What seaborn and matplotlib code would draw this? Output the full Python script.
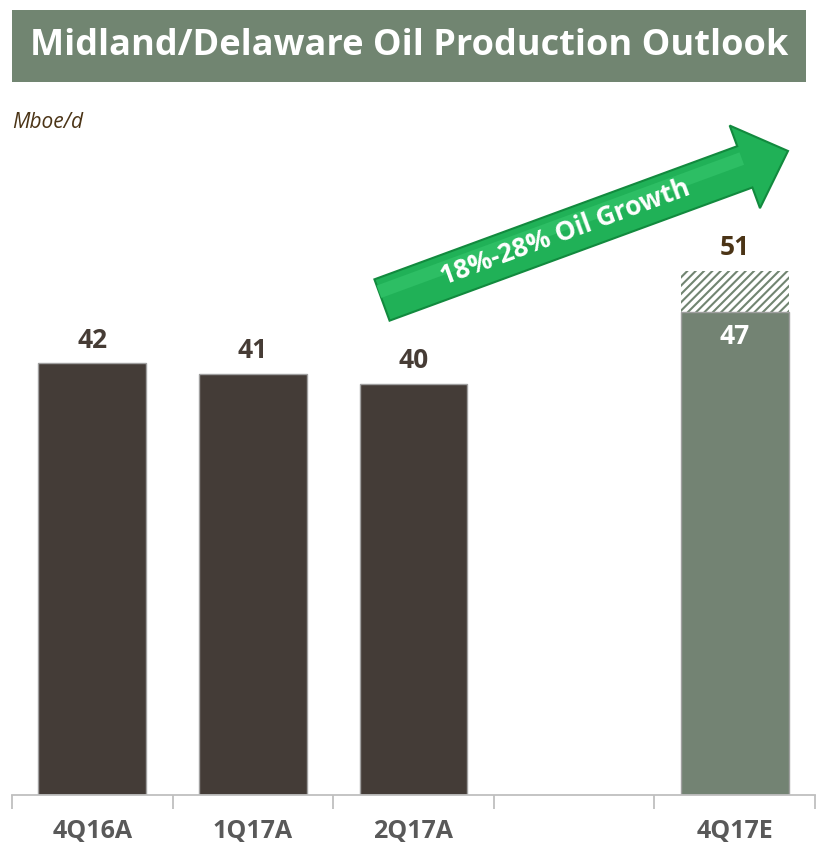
import numpy as np
import pandas as pd
import matplotlib
matplotlib.use("Agg")
import matplotlib.pyplot as plt
import seaborn as sns
from matplotlib.patches import Polygon, Rectangle

# ---- data ----
categories = ["4Q16A", "1Q17A", "2Q17A", "4Q17E"]
slot_order = ["4Q16A", "1Q17A", "2Q17A", " ", "4Q17E"]
base_values = [42, 41, 40, 47]
total_values = [42, 41, 40, 51]
title = "Midland/Delaware Oil Production Outlook"
unit_label = "Mboe/d"
arrow_text = "18%-28% Oil Growth"

DARK = "#463C35"
GREEN = "#718571"
BROWN = "#4B3416"
FONT = ["Open Sans", "DejaVu Sans"]

sns.set_theme(style="white")
plt.rcParams["font.family"] = FONT
plt.rcParams["hatch.linewidth"] = 1.5

W, H = 819, 846
fig = plt.figure(figsize=(W / 100, H / 100), dpi=100)

def px(x, y):
    return (x / 100.0, (H - y) / 100.0)

ax = fig.add_axes([12 / W, 1 - 795 / H, 803 / W, 655 / H])
ymax = 655 / 10.28

df = pd.DataFrame({"cat": categories, "base": base_values, "total": total_values})
palette = {"4Q16A": DARK, "1Q17A": DARK, "2Q17A": DARK, "4Q17E": GREEN}

sns.barplot(data=df, x="cat", y="total", order=slot_order, color="white",
            width=0.67, edgecolor=GREEN, linewidth=0, hatch="////", ax=ax)
sns.barplot(data=df, x="cat", y="base", order=slot_order, hue="cat",
            palette=palette, legend=False, width=0.67,
            edgecolor="#A0A0A0", linewidth=1.0, ax=ax)

ax.set_xlim(-0.5, 4.5)
ax.set_ylim(0, ymax)
ax.set_xlabel("")
ax.set_ylabel("")
ax.set_yticks([])
for s in ["top", "right", "left"]:
    ax.spines[s].set_visible(False)
ax.spines["bottom"].set_color("#BFBFBF")
ax.spines["bottom"].set_linewidth(1.3)

ax.set_xticks(range(5))
ax.set_xticklabels(slot_order, fontsize=18, fontweight="bold", color="#595959",
                   family=FONT)
ax.tick_params(axis="x", which="major", length=0, pad=17)
ax.set_xticks(np.arange(-0.5, 5.0, 1.0), minor=True)
ax.tick_params(axis="x", which="minor", length=10, width=1.3, color="#BFBFBF",
               bottom=True)

pos = {c: slot_order.index(c) for c in categories}
for c, b, t in zip(categories, base_values, total_values):
    x = pos[c]
    if t > b:
        ax.annotate(f"{t}", (x, t), xytext=(0, 7), textcoords="offset points",
                    ha="center", va="bottom", fontsize=19, fontweight="bold",
                    color=BROWN)
        ax.annotate(f"{b}", (x, b), xytext=(0, -8), textcoords="offset points",
                    ha="center", va="top", fontsize=19, fontweight="bold",
                    color="white")
    else:
        ax.annotate(f"{b}", (x, b), xytext=(0, 7), textcoords="offset points",
                    ha="center", va="bottom", fontsize=19, fontweight="bold",
                    color=DARK)

fig.patches.append(Rectangle(px(12, 82), 794 / 100, 72 / 100, transform=fig.dpi_scale_trans,
                             facecolor=GREEN, edgecolor="none", zorder=0))
fig.text(409 / W, 1 - 46 / H, title, ha="center", va="center", fontsize=26,
         fontweight="bold", color="white")

fig.text(12 / W, 1 - 122 / H, unit_label, ha="left", va="center", fontsize=15,
         style="italic", color=BROWN)

T = np.array([382.0, 300.0])
P = np.array([788.0, 151.0])
d = P - T
L = np.hypot(*d)
u = d / L
n = np.array([u[1], -u[0]])
hw, HW, HL = 22.0, 44.0, 46.0
B = P - u * HL
pts = [T + n * hw, B + n * hw, B + n * HW, P, B - n * HW, B - n * hw, T - n * hw]
poly = Polygon([px(*p) for p in pts], closed=True, transform=fig.dpi_scale_trans,
               facecolor="#20B157", edgecolor="#128A3E", linewidth=1.5, zorder=5)
fig.patches.append(poly)
hl = [T + n * hw * 0.1, B + n * hw * 0.1, B + n * hw * 0.7, T + n * hw * 0.7]
fig.patches.append(Polygon([px(*p) for p in hl], closed=True, transform=fig.dpi_scale_trans,
                           facecolor="#2DBE64", edgecolor="none", zorder=5))
ang = np.degrees(np.arctan2(-d[1], d[0]))
C = T + u * 195
fig.text(C[0] / W, 1 - C[1] / H, arrow_text, ha="center", va="center",
         rotation=ang, rotation_mode="anchor", fontsize=19, fontweight="bold",
         color="white", zorder=6)

fig.savefig("out.png", dpi=100)
